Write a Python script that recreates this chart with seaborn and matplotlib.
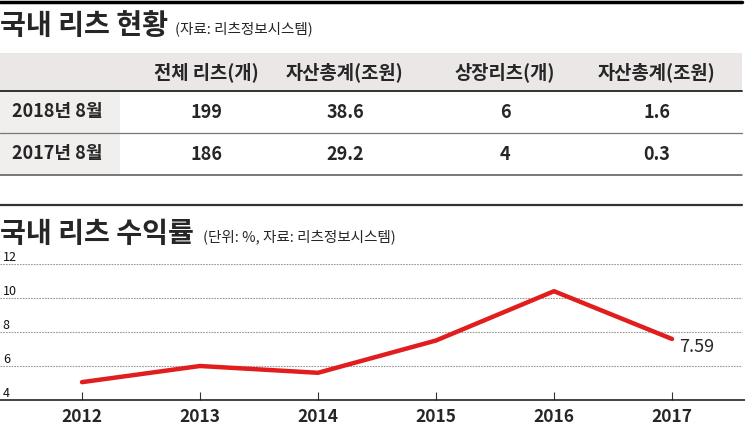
import numpy as np
import pandas as pd
import matplotlib
matplotlib.use("Agg")
import matplotlib.pyplot as plt
import seaborn as sns
from matplotlib.patches import Rectangle
from matplotlib.lines import Line2D

# 데이터
col_headers = ["전체 리츠(개)", "자산총계(조원)", "상장리츠(개)", "자산총계(조원)"]
row_labels = ["2018년 8월", "2017년 8월"]
total_reits = ["199", "186"]
total_assets = ["38.6", "29.2"]
listed_reits = ["6", "4"]
listed_assets = ["1.6", "0.3"]

years = [2012, 2013, 2014, 2015, 2016, 2017]
returns = [5.05, 6.0, 5.6, 7.5, 10.4, 7.59]
y_ticks = [4, 6, 8, 10, 12]

sns.set_theme(style="white")
plt.rcParams['font.family'] = ['Noto Sans CJK KR', 'DejaVu Sans']

W, H = 745, 426
fig = plt.figure(figsize=(W / 100, H / 100), dpi=100)
fig.patch.set_facecolor("white")


def fy(py):
    # 픽셀 y -> figure 좌표
    return 1 - py / H


def fx(px):
    return px / W


# 상단 굵은 선
fig.add_artist(Line2D([0, fx(742)], [fy(2), fy(2)], color="black", lw=2.5))

# 제목 1
fig.text(0, fy(26), "국내 리츠 현황", fontsize=20.3, fontweight="bold", va="center", ha="left")
fig.text(fx(175), fy(29), "(자료: 리츠정보시스템)", fontsize=10.5, va="center", ha="left")

# 표 영역
header_top, header_bot = 53, 91
row_h = 42
col_x = [57, 206, 345, 505, 657]
fig.add_artist(Rectangle((0, fy(header_bot)), fx(742), fy(header_top) - fy(header_bot),
                         facecolor="#ebe7e7", edgecolor="none"))
fig.add_artist(Rectangle((0, fy(header_bot + 2 * row_h)), fx(120), fy(header_bot) - fy(header_bot + 2 * row_h),
                         facecolor="#f1eeee", edgecolor="none"))
for name, cx in zip(col_headers, col_x[1:]):
    fig.text(fx(cx), fy(72), name, fontsize=13.5, fontweight="bold", ha="center", va="center")

fig.add_artist(Line2D([0, fx(742)], [fy(header_bot), fy(header_bot)], color="#333333", lw=1.4))
fig.add_artist(Line2D([0, fx(742)], [fy(header_bot + row_h), fy(header_bot + row_h)], color="#777777", lw=0.9))
fig.add_artist(Line2D([0, fx(742)], [fy(header_bot + 2 * row_h), fy(header_bot + 2 * row_h)], color="#555555", lw=1.1))

columns = [row_labels, total_reits, total_assets, listed_reits, listed_assets]
for i in range(len(row_labels)):
    cy = header_bot + row_h * (i + 0.5)
    for j, col in enumerate(columns):
        fig.text(fx(col_x[j]), fy(cy), col[i], fontsize=13, fontweight="bold",
                 ha="center", va="center")

# 두번째 구분선
fig.add_artist(Line2D([0, fx(742)], [fy(205), fy(205)], color="#333333", lw=1.6))
fig.text(0, fy(234), "국내 리츠 수익률", fontsize=20.3, fontweight="bold", va="center", ha="left")
fig.text(fx(203), fy(237), "(단위: %, 자료: 리츠정보시스템)", fontsize=10.5, va="center", ha="left")

# 선 그래프
ax = fig.add_axes([0, fy(400), 1, fy(264) - fy(400)])
df = pd.DataFrame({"year": years, "ret": returns})
sns.lineplot(data=df, x="year", y="ret", ax=ax, color="#e21d1d", lw=3.2)

ax.set_xlim(2012 - 82 / 118, 2012 + (W - 82) / 118)
ax.set_ylim(4, 12)
ax.set_xlabel("")
ax.set_ylabel("")
ax.set_xticks(years)
ax.set_xticklabels([str(y) for y in years], fontsize=12.5, fontweight="bold")
ax.set_yticks(y_ticks)
ax.set_yticklabels([str(t) for t in y_ticks], fontsize=9, ha="left", va="bottom", color="#111111")
ax.tick_params(axis="y", length=0, pad=-2)
ax.tick_params(axis="x", direction="in", length=6, width=0.8, color="#333333", pad=6, bottom=True)
for sp in ["top", "right", "left"]:
    ax.spines[sp].set_visible(False)
ax.spines["bottom"].set_color("#222222")
ax.spines["bottom"].set_linewidth(1.2)
for t in y_ticks[1:]:
    ax.axhline(t, xmax=(742 / W), color="#999999", lw=0.8, ls=(0, (1.5, 1)), zorder=0)
ax.set_facecolor("none")

ax.annotate(f"{returns[-1]:.2f}", (years[-1], returns[-1]), xytext=(5, -6),
            textcoords="offset points", fontsize=13, ha="left", va="center")

fig.savefig("out.png", dpi=100, facecolor="white")
